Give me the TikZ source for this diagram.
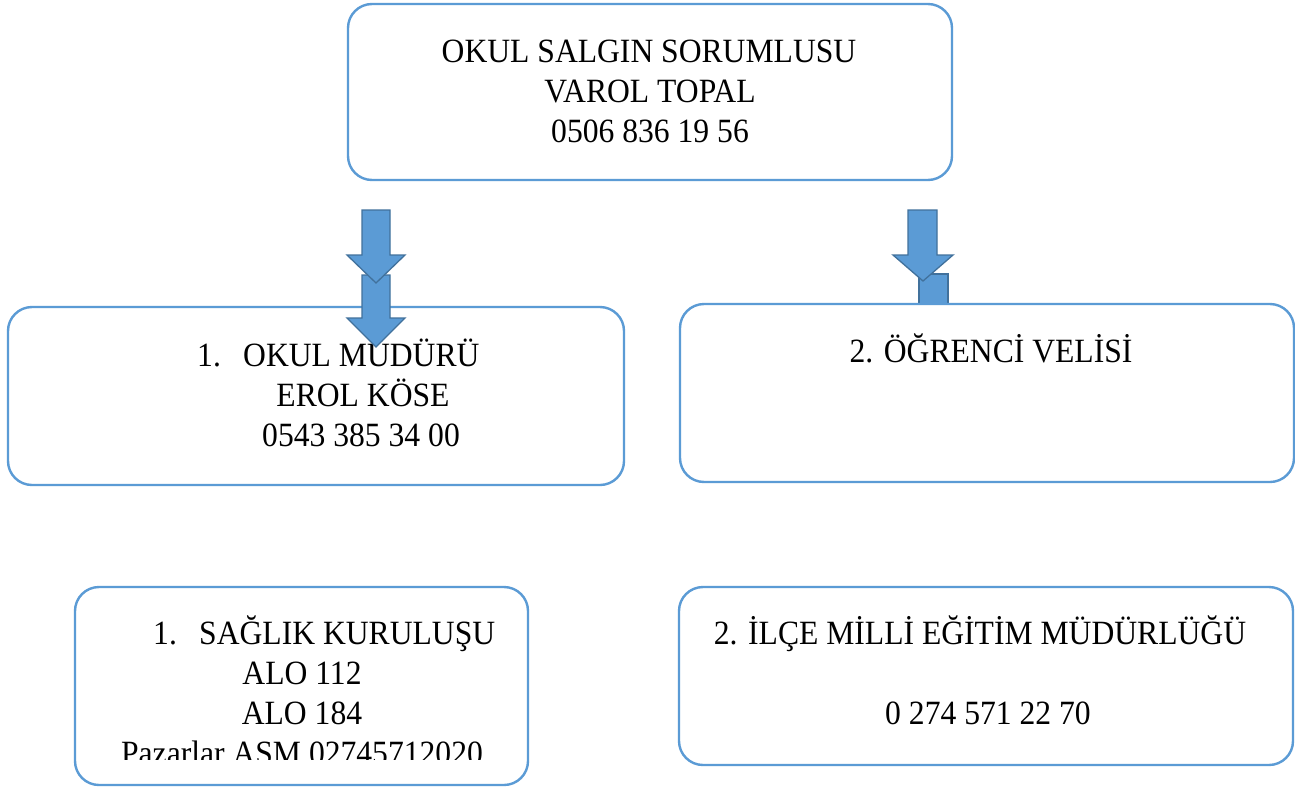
\documentclass[tikz,border=0pt]{standalone}
\usepackage{graphicx}
\usepackage{fontspec}
\setmainfont{Liberation Serif}
\definecolor{boxline}{HTML}{5B9BD5}
\definecolor{arrfill}{HTML}{5B9BD5}
\definecolor{arrline}{HTML}{41719C}
\newcommand{\sq}[1]{\scalebox{0.93}[1]{#1}}
\begin{document}
\begin{tikzpicture}[x=1pt,y=-1pt,
  box/.style={draw=boxline,line width=2.4pt,rounded corners=24pt,fill=white},
  txt/.style={inner sep=0pt,anchor=base,font=\fontsize{34}{40}\selectfont},
  txtw/.style={inner sep=0pt,anchor=base west,font=\fontsize{34}{40}\selectfont},
  blockarrow/.style={fill=arrfill,draw=arrline,line width=1.3pt,line join=miter}]
\useasboundingbox (0,0) rectangle (1295,787);
\fill[white] (0,0) rectangle (1295,787);

% partial arrow behind right box
\draw[blockarrow] (919,330) -- (919,274) -- (948,274) -- (948,330);

% boxes
\draw[box] (348,4) rectangle (952,180);
\node[inner sep=0pt] (top) at (650,92) {};
\draw[box] (8,307) rectangle (624,485);
\node[inner sep=0pt] (lmid) at (316,396) {};
\draw[box] (680,304) rectangle (1294,482);
\node[inner sep=0pt] (rmid) at (987,393) {};
\draw[box] (75,587) rectangle (528,785);
\node[inner sep=0pt] (lbot) at (301,686) {};
\draw[box] (679,587) rectangle (1293,765);
\node[inner sep=0pt] (rbot) at (986,676) {};

% texts
\node[txt] (t1) at (649,62) {\sq{OKUL SALGIN SORUMLUSU}};
\node[txt] (t2) at (650,102) {\sq{VAROL TOPAL}};
\node[txt] (t3) at (650,142) {\sq{0506 836 19 56}};

\node[txtw] (m1) at (197,366) {\sq{1.\hspace{24pt}OKUL MÜDÜRÜ}};
\node[txt] (m2) at (363,406) {\sq{EROL KÖSE}};
\node[txt] (m3) at (361,446) {\sq{0543 385 34 00}};

\node[txt] (v1) at (991,362) {\sq{2. ÖĞRENCİ VELİSİ}};

\begin{scope}
\clip (75,590) rectangle (528,759);
\node[txtw] (s1) at (153,644) {\sq{1.\hspace{24pt}SAĞLIK KURULUŞU}};
\node[txt] (s2) at (302,684) {\sq{ALO 112}};
\node[txt] (s3) at (302,724) {\sq{ALO 184}};
\node[txt] (s4) at (302,764) {\sq{Pazarlar ASM 02745712020}};
\end{scope}

\node[txt] (i1) at (980,644) {\sq{2. İLÇE MİLLİ EĞİTİM MÜDÜRLÜĞÜ}};
\node[txt] (i2) at (988,724) {\sq{0 274 571 22 70}};

% block arrows
\draw[blockarrow] (362,275) -- (390,275) -- (390,318) -- (405,318) -- (376,347) -- (347,318) -- (362,318) -- cycle;
\draw[blockarrow] (362,210) -- (390,210) -- (390,255) -- (405,255) -- (376,283) -- (347,255) -- (362,255) -- cycle;
\draw[blockarrow] (908,210) -- (937,210) -- (937,255) -- (953,255) -- (923,281) -- (893,255) -- (908,255) -- cycle;
\end{tikzpicture}
\end{document}
